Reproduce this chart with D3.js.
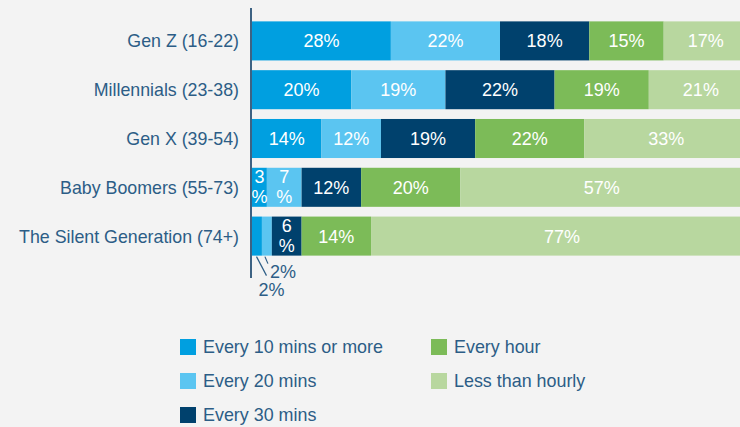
<!DOCTYPE html>
<html>
<head>
<meta charset="utf-8">
<script src="https://cdn.jsdelivr.net/npm/d3@7"></script>
<style>
  html, body { margin: 0; padding: 0; background: #f3f3f3; }
  svg { display: block; font-family: "Liberation Sans", Arial, sans-serif; }
</style>
</head>
<body>
<svg id="chart" width="740" height="427"></svg>
<script>
// Age groups (rows, top to bottom)
const categories = [
  "Gen Z (16-22)",
  "Millennials (23-38)",
  "Gen X (39-54)",
  "Baby Boomers (55-73)",
  "The Silent Generation (74+)"
];

// How often each group checks in — share of respondents (%)
const seriesNames = [
  "Every 10 mins or more",
  "Every 20 mins",
  "Every 30 mins",
  "Every hour",
  "Less than hourly"
];
const every10 = [28, 20, 14, 3, 2];
const every20 = [22, 19, 12, 7, 2];
const every30 = [18, 22, 19, 12, 6];
const everyHour = [15, 19, 22, 20, 14];
const lessThanHourly = [17, 21, 33, 57, 77];

const seriesValues = [every10, every20, every30, everyHour, lessThanHourly];
const colors = ["#009fe0", "#5bc5f1", "#00416d", "#7cbb58", "#b8d79f"];

const textColor = "#2c5d86";

const svg = d3.select("#chart");

const x = d3.scaleLinear().domain([0, 100]).range([252, 748]);
const y = d3.scaleBand().domain(categories).range([16.5, 260.5]).paddingInner(0.2).paddingOuter(0.1);

// Build stacked rows
const rows = categories.map((c, i) => {
  const row = { category: c };
  seriesNames.forEach((s, j) => { row[s] = seriesValues[j][i]; });
  return row;
});
const stacked = d3.stack().keys(seriesNames)(rows);

const layers = svg.append("g").selectAll("g")
  .data(stacked)
  .join("g")
  .attr("fill", (d, i) => colors[i]);

layers.selectAll("rect")
  .data(d => d.map(p => ({ p, key: d.key })))
  .join("rect")
  .attr("x", d => x(d.p[0]))
  .attr("y", d => y(d.p.data.category))
  .attr("width", d => x(d.p[1]) - x(d.p[0]))
  .attr("height", y.bandwidth());

// Value labels
const labelSize = 18;
const labels = svg.append("g")
  .attr("font-size", labelSize)
  .attr("fill", "#ffffff")
  .attr("text-anchor", "middle");

const outside = [];
stacked.forEach((layer, j) => {
  layer.forEach(p => {
    const v = p[1] - p[0];
    const cx = (x(p[0]) + x(p[1])) / 2;
    const cy = y(p.data.category) + y.bandwidth() / 2;
    const w = x(p[1]) - x(p[0]);
    if (v <= 2) {
      outside.push({ v, cx, bottom: y(p.data.category) + y.bandwidth(), x0: x(p[0]), x1: x(p[1]) });
    } else if (w < 40) {
      const t = labels.append("text").attr("x", cx).attr("y", cy - 4);
      t.append("tspan").attr("x", cx).attr("dy", 0).text(v);
      t.append("tspan").attr("x", cx).attr("dy", 20).text("%");
    } else {
      labels.append("text")
        .attr("x", cx)
        .attr("y", cy)
        .attr("dy", "0.36em")
        .text(v + "%");
    }
  });
});

// Callouts for the thinnest segments, placed below the bar
const callout = svg.append("g").attr("font-size", labelSize).attr("fill", textColor);
outside.forEach((o, k) => {
  const lead = k === 0
    ? { x1: o.x0 + 4.5, y1: o.bottom + 1, x2: o.x0 + 14.5, y2: o.bottom + 20, tx: o.x0 + 6.5, ty: o.bottom + 40 }
    : { x1: o.x0 + 3, y1: o.bottom + 1, x2: o.x0 + 6, y2: o.bottom + 8, tx: o.x0 + 8, ty: o.bottom + 22 };
  callout.append("line")
    .attr("x1", lead.x1).attr("y1", lead.y1)
    .attr("x2", lead.x2).attr("y2", lead.y2)
    .attr("stroke", textColor).attr("stroke-width", 1.2);
  callout.append("text").attr("x", lead.tx).attr("y", lead.ty).text(o.v + "%");
});

// Vertical axis line
svg.append("line")
  .attr("x1", 251).attr("x2", 251)
  .attr("y1", 8).attr("y2", 278)
  .attr("stroke", "#3d6283").attr("stroke-width", 2);

// Category labels
svg.append("g").selectAll("text")
  .data(categories)
  .join("text")
  .attr("x", 239)
  .attr("y", d => y(d) + y.bandwidth() / 2)
  .attr("dy", "0.36em")
  .attr("text-anchor", "end")
  .attr("font-size", 17.8)
  .attr("fill", textColor)
  .text(d => d);

// Legend
const legendItems = [
  { name: seriesNames[0], color: colors[0], col: 0, row: 0 },
  { name: seriesNames[1], color: colors[1], col: 0, row: 1 },
  { name: seriesNames[2], color: colors[2], col: 0, row: 2 },
  { name: seriesNames[3], color: colors[3], col: 1, row: 0 },
  { name: seriesNames[4], color: colors[4], col: 1, row: 1 }
];
const legend = svg.append("g").selectAll("g")
  .data(legendItems)
  .join("g")
  .attr("transform", d => `translate(${d.col === 0 ? 180 : 431},${339 + d.row * 34})`);
legend.append("rect")
  .attr("width", 16).attr("height", 16)
  .attr("fill", d => d.color);
legend.append("text")
  .attr("x", 23)
  .attr("y", 8)
  .attr("dy", "0.36em")
  .attr("font-size", 17.9)
  .attr("fill", textColor)
  .text(d => d.name);
</script>
</body>
</html>
